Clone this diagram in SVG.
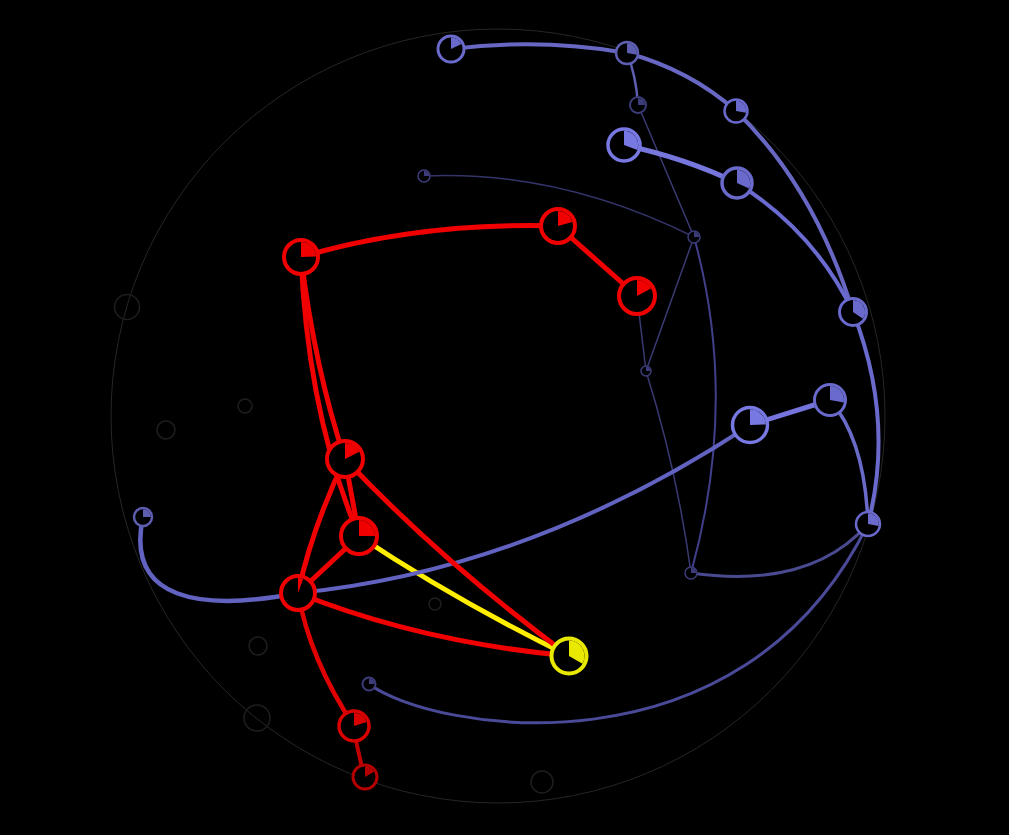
<svg xmlns="http://www.w3.org/2000/svg" width="1009" height="835" viewBox="0 0 1009 835">
<style>
.bg{fill:#000}
.ring{fill:none;stroke:#262626;stroke-width:1}
.ghost{fill:none;stroke:#1e1e1e;stroke-width:1.5}
.e{fill:none;stroke-linecap:round}
.n circle{fill:#000}
.blue circle{stroke:#6a6acc}.blue path{fill:#6a6acc}
.lblue circle{stroke:#7878e2}.lblue path{fill:#7878e2}
.mblue circle{stroke:#5e5eb0}.mblue path{fill:#5e5eb0}
.dblue circle{stroke:#3c3c7a}.dblue path{fill:#3c3c7a}
.red circle{stroke:#f00000}.red path{fill:#f00000}
.red2 circle{stroke:#d80000}.red2 path{fill:#d80000}
.red3 circle{stroke:#b40000}.red3 path{fill:#b40000}
.yel circle{stroke:#e8e800}.yel path{fill:#e8e800}
</style>
<rect class="bg" x="0" y="0" width="1009" height="835"/>
<circle class="ring" cx="498" cy="416" r="387"/>
<g id="ghosts">
<circle class="ghost" cx="127" cy="307" r="12.5"/>
<circle class="ghost" cx="166" cy="430" r="9"/>
<circle class="ghost" cx="245" cy="406" r="7"/>
<circle class="ghost" cx="258" cy="646" r="9"/>
<circle class="ghost" cx="257" cy="718" r="13"/>
<circle class="ghost" cx="542" cy="782" r="11"/>
<circle class="ghost" cx="435" cy="604" r="6"/>
</g>
<g id="connectors">
<path class="e" stroke="#ffee00" stroke-width="5" d="M359,536 Q455,600 569,656"/>
<path class="e" stroke="#34346a" stroke-width="1.5" d="M424,176 Q559,170 694,237"/>
<path class="e" stroke="#3a3a72" stroke-width="1.5" d="M638,105 L694,237"/>
<path class="e" stroke="#3a3a72" stroke-width="1.5" d="M694,237 L646,371"/>
<path class="e" stroke="#3a3a72" stroke-width="1.5" d="M637,296 L646,371"/>
<path class="e" stroke="#3a3a72" stroke-width="1.5" d="M646,371 Q677,470 691,573"/>
<path class="e" stroke="#40408a" stroke-width="2" d="M694,237 Q739,400 691,573"/>
<path class="e" stroke="#4a4a90" stroke-width="3" d="M691,573 Q810,590 868,524"/>
<path class="e" stroke="#4a4a98" stroke-width="3" d="M369,684 C430,730 740,785 868,524"/>
<path class="e" stroke="#5e5eb0" stroke-width="2.5" d="M627,53 Q636,75 638,105"/>
<path class="e" stroke="#6868c4" stroke-width="4" d="M451,49 Q540,38 627,53 Q690,70 736,111 Q815,188 853,312"/>
<path class="e" stroke="#6a6acc" stroke-width="4" d="M853,312 Q895,420 868,524"/>
<path class="e" stroke="#7676dc" stroke-width="5" d="M624,145 Q685,158 737,183"/>
<path class="e" stroke="#6a6ad0" stroke-width="4" d="M737,183 Q815,232 853,312"/>
<path class="e" stroke="#7474dc" stroke-width="5" d="M750,425 L830,400"/>
<path class="e" stroke="#6a6ac8" stroke-width="3.5" d="M830,400 Q865,440 868,524"/>
<path class="e" stroke="#6262c0" stroke-width="4" d="M298,593 Q530,570 750,425"/>
<path class="e" stroke="#6262c0" stroke-width="4.5" d="M298,593 C200,612 125,600 143,517"/>
<path class="e" stroke="#f00000" stroke-width="5" d="M301,257 Q420,222 558,226"/>
<path class="e" stroke="#f00000" stroke-width="5" d="M558,226 L637,296"/>
<path class="e" stroke="#f00000" stroke-width="5" d="M301,257 Q315,370 345,459"/>
<path class="e" stroke="#f00000" stroke-width="5" d="M301,257 Q308,415 359,536"/>
<path class="e" stroke="#f00000" stroke-width="5" d="M345,459 L359,536"/>
<path class="e" stroke="#f00000" stroke-width="5" d="M345,459 Q312,528 298,593"/>
<path class="e" stroke="#f00000" stroke-width="5" d="M359,536 L298,593"/>
<path class="e" stroke="#f00000" stroke-width="5" d="M345,459 Q440,560 569,656"/>
<path class="e" stroke="#f00000" stroke-width="5" d="M298,593 Q420,642 569,656"/>
<path class="e" stroke="#e00000" stroke-width="4.5" d="M298,593 Q310,660 354,726"/>
<path class="e" stroke="#c00000" stroke-width="4" d="M354,726 Q357,752 365,777"/>
</g>
<g id="n-b1" class="n blue" transform="translate(451,49)"><circle r="13" stroke-width="3"/><path d="M0,0 L0,-11.5 A11.5,11.5 0 0 1 10.4,-4.9 Z"/></g>
<g id="n-b2" class="n mblue" transform="translate(627,53)"><circle r="11" stroke-width="2.5"/><path d="M0,0 L0,-9.75 A9.75,9.75 0 0 1 9.6,1.7 Z"/></g>
<g id="n-b3" class="n dblue" transform="translate(638,105)"><circle r="8" stroke-width="2"/><path d="M0,0 L0,-7 A7,7 0 0 1 7,0 Z"/></g>
<g id="n-b4" class="n blue" transform="translate(736,111)"><circle r="11.5" stroke-width="2.5"/><path d="M0,0 L0,-10.25 A10.25,10.25 0 0 1 10.1,1.8 Z"/></g>
<g id="n-b5" class="n lblue" transform="translate(624,145)"><circle r="16" stroke-width="3.5"/><path d="M0,0 L0,-14.25 A14.25,14.25 0 0 1 13.3,5.1 Z"/></g>
<g id="n-b6" class="n blue" transform="translate(737,183)"><circle r="15" stroke-width="3.5"/><path d="M0,0 L0,-13.25 A13.25,13.25 0 0 1 12,5.6 Z"/></g>
<g id="n-b7" class="n dblue" transform="translate(424,176)"><circle r="6" stroke-width="1.5"/><path d="M0,0 L0,-5.25 A5.25,5.25 0 0 1 5.25,0 Z"/></g>
<g id="n-b8" class="n dblue" transform="translate(694,237)"><circle r="6" stroke-width="1.5"/><path d="M0,0 L0,-5.25 A5.25,5.25 0 0 1 5.25,0 Z"/></g>
<g id="n-b9" class="n blue" transform="translate(853,312)"><circle r="13.5" stroke-width="3"/><path d="M0,0 L0,-12 A12,12 0 0 1 9.9,6.7 Z"/></g>
<g id="n-b10" class="n dblue" transform="translate(646,371)"><circle r="5" stroke-width="1.5"/><path d="M0,0 L0,-4.25 A4.25,4.25 0 0 1 4.25,0 Z"/></g>
<g id="n-b11" class="n lblue" transform="translate(750,425)"><circle r="17.5" stroke-width="3.5"/><path d="M0,0 L0,-15.75 A15.75,15.75 0 0 1 15.7,-0.5 Z"/></g>
<g id="n-b12" class="n blue" transform="translate(830,400)"><circle r="15.5" stroke-width="3"/><path d="M0,0 L0,-14 A14,14 0 0 1 13.8,2.4 Z"/></g>
<g id="n-b13" class="n blue" transform="translate(868,524)"><circle r="12" stroke-width="2.5"/><path d="M0,0 L0,-10.75 A10.75,10.75 0 0 1 10.6,1.9 Z"/></g>
<g id="n-b14" class="n dblue" transform="translate(691,573)"><circle r="6" stroke-width="1.5"/><path d="M0,0 L0,-5.25 A5.25,5.25 0 0 1 5.25,0 Z"/></g>
<g id="n-b15" class="n mblue" transform="translate(143,517)"><circle r="9" stroke-width="2.5"/><path d="M0,0 L0,-7.75 A7.75,7.75 0 0 1 7.75,0 Z"/></g>
<g id="n-b16" class="n dblue" transform="translate(369,684)"><circle r="6.5" stroke-width="2"/><path d="M0,0 L0,-5.5 A5.5,5.5 0 0 1 5.5,0 Z"/></g>
<g id="n-r1" class="n red" transform="translate(301,257)"><circle r="17" stroke-width="4"/><path d="M0,0 L0,-15 A15,15 0 0 1 15,-0.5 Z"/></g>
<g id="n-r2" class="n red" transform="translate(558,226)"><circle r="17" stroke-width="4"/><path d="M0,0 L0,-15 A15,15 0 0 1 14.4,-4.1 Z"/></g>
<g id="n-r3" class="n red" transform="translate(637,296)"><circle r="18" stroke-width="4"/><path d="M0,0 L0,-16 A16,16 0 0 1 14.1,-7.5 Z"/></g>
<g id="n-r4" class="n red" transform="translate(345,459)"><circle r="18" stroke-width="4"/><path d="M0,0 L0,-16 A16,16 0 0 1 14.3,-7.3 Z"/></g>
<g id="n-r5" class="n red" transform="translate(359,536)"><circle r="18" stroke-width="4"/><path d="M0,0 L0,-16 A16,16 0 0 1 16,0 Z"/></g>
<g id="n-r6" class="n red" transform="translate(298,593)"><circle r="17" stroke-width="4"/><path d="M0,0 L0,-15 A15,15 0 0 1 5.1,-14.1 Z"/></g>
<g id="n-r7" class="n red2" transform="translate(354,726)"><circle r="15" stroke-width="3.5"/><path d="M0,0 L0,-13.25 A13.25,13.25 0 0 1 12.6,-4.1 Z"/></g>
<g id="n-r8" class="n red3" transform="translate(365,777)"><circle r="12" stroke-width="3"/><path d="M0,0 L0,-10.5 A10.5,10.5 0 0 1 9.1,-5.25 Z"/></g>
<g id="n-y1" class="n yel" transform="translate(569,656)"><circle r="17.5" stroke-width="4"/><path d="M0,0 L0,-15.5 A15.5,15.5 0 0 1 13.4,7.75 Z"/></g>
</svg>
